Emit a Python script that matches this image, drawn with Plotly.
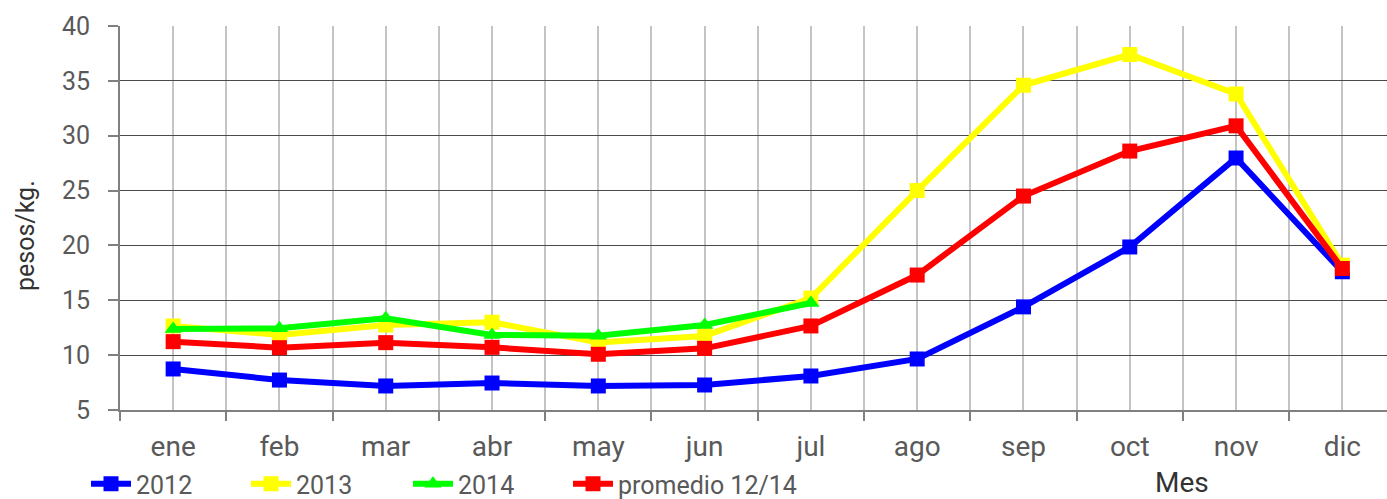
import plotly.graph_objects as go

meses = ["ene", "feb", "mar", "abr", "may", "jun", "jul", "ago", "sep", "oct", "nov", "dic"]
s2012 = [8.74, 7.73, 7.19, 7.46, 7.19, 7.28, 8.1, 9.65, 14.4, 19.86, 27.97, 17.6]
s2013 = [12.66, 11.84, 12.75, 13.0, 11.15, 11.75, 15.2, 25.0, 34.6, 37.4, 33.8, 18.2]
s2014 = [12.38, 12.45, 13.36, 11.84, 11.77, 12.75, 14.75]
prom = [11.23, 10.68, 11.14, 10.71, 10.08, 10.62, 12.66, 17.3, 24.5, 28.6, 30.9, 17.9]
yticks = [5, 10, 15, 20, 25, 30, 35, 40]

FONT = "Roboto, sans-serif"
GRAY = "#595959"

L, T, B = 120, 26, 89
W, H = 1387, 499
PW, PH = W - L, H - T - B

fig = go.Figure()
xs = list(range(len(meses)))
series = [
    ("2012", s2012, "#0000ff", "square", "legend"),
    ("2013", s2013, "#ffff00", "square", "legend2"),
    ("2014", s2014, "#00ff00", "triangle-up", "legend3"),
    ("promedio 12/14", prom, "#ff0000", "square", "legend4"),
]
for name, vals, col, sym, leg in series:
    fig.add_trace(go.Scatter(x=xs[:len(vals)], y=vals, name=name, mode="lines+markers",
                             line=dict(color=col, width=6),
                             marker=dict(symbol=sym, size=15, color=col),
                             legend=leg))

legend_left = [86, 246, 408, 568]


def leg(px):
    return dict(orientation="h", x=(px - L) / PW, xanchor="left",
                y=(H - B - 484) / PH, yanchor="middle",
                font=dict(family=FONT, size=25, color=GRAY),
                itemwidth=40, bgcolor="rgba(0,0,0,0)")


fig.update_layout(
    width=W, height=H,
    margin=dict(l=L, r=0, t=T, b=B, autoexpand=False),
    paper_bgcolor="white", plot_bgcolor="white",
    font=dict(family=FONT, color=GRAY, size=22),
    showlegend=True,
    legend=leg(legend_left[0]),
    legend2=leg(legend_left[1]),
    legend3=leg(legend_left[2]),
    legend4=leg(legend_left[3]),
    xaxis=dict(
        range=[-0.5, 11.42],
        tickmode="array", tickvals=xs, ticktext=meses,
        ticks="outside", ticklen=10, tickcolor="rgba(0,0,0,0)",
        tickfont=dict(family=FONT, size=28, color=GRAY),
        showgrid=True, gridcolor="#c4c4c4", gridwidth=2,
        showline=True, linecolor="#808080", linewidth=2,
        zeroline=False, automargin=False,
        minor=dict(tickmode="array", tickvals=[i - 0.5 for i in range(13)],
                   ticks="outside", ticklen=9, tickcolor="#808080", tickwidth=2,
                   showgrid=True, gridcolor="#c4c4c4", gridwidth=2),
    ),
    yaxis=dict(
        range=[5, 40],
        tickmode="array", tickvals=yticks,
        ticks="outside", ticklen=10, tickcolor="#808080", tickwidth=2,
        tickfont=dict(family=FONT, size=25, color=GRAY),
        ticklabelstandoff=13,
        showgrid=True, gridcolor="#4a4a4a", gridwidth=1.3,
        showline=True, linecolor="#808080", linewidth=2,
        zeroline=False, automargin=False,
    ),
    annotations=[
        dict(text="Mes", xref="paper", yref="paper", x=(1182 - L) / PW, y=(H - B - 482) / PH,
             xanchor="center", yanchor="middle", showarrow=False,
             font=dict(family=FONT, size=28, color="#333333")),
        dict(text="pesos/kg.", xref="paper", yref="paper", x=(25 - L) / PW, y=(H - B - 236) / PH,
             xanchor="center", yanchor="middle", showarrow=False, textangle=-90,
             font=dict(family=FONT, size=25, color="#333333")),
    ],
)

fig.write_html("out.html", config={"displayModeBar": False},
               post_script="document.body.style.margin='0';document.body.style.overflow='hidden';")
